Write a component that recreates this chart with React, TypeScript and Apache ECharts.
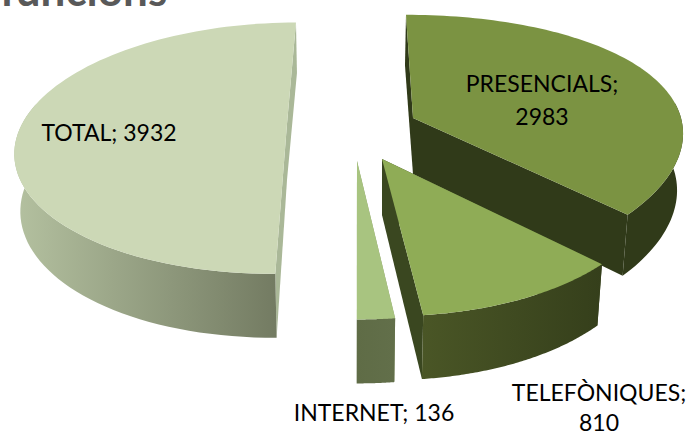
import React, { useEffect, useRef } from "react";
import * as echarts from "echarts";

const categories = ["TOTAL", "PRESENCIALS", "TELEFÒNIQUES", "INTERNET"];
const values = [3932, 2983, 810, 136];
const titleText = "funcions";

// layout (not data)
const apexes = [[287, 124], [413, 118], [382, 159], [357, 161]];
const radiusX = [265, 268, 265, 265];
const radiusY = [121, 123, 127, 128];
const perspectiveX = [0.192, 0.1, 0.192, 0.192];
const angleNudge = [[0.5, 0.7], [0.7, -2.5], [0, 1.4], [0.9, 1.4]];
const topColors = ["#CCD8B6", "#7B9342", "#8FAC56", "#A8C480"];
const cutColors = ["#AAB898", "#303A19", "#3A4720", "#8A9A6C"];
const sideFrom = ["#B4C1A0", "#303A19", "#4A5626", "#5F6C46"];
const sideTo = ["#737B62", "#303A19", "#353F1B", "#626F4A"];
const labelPos: [number, number][][] = [
  [[109, 132]],
  [[542, 83], [542, 116]],
  [[599, 392], [599, 422]],
  [[374, 412]],
];
const labelLines = [
  (n: string, v: number) => [`${n}; ${v}`],
  (n: string, v: number) => [`${n};`, `${v}`],
  (n: string, v: number) => [`${n};`, `${v}`],
  (n: string, v: number) => [`${n}; ${v}`],
];
const START = -91;
const K = 0.192, VX = 350, DEPTH = 56;

const project = (i: number, t: number, drop = 0) => {
  const a = apexes[i];
  const X = Math.cos(t), Y = Math.sin(t);
  const d = 1 - K * Y;
  const dX = 1 - perspectiveX[i] * Y;
  const dx = a[0] - VX + radiusX[i] * X;
  const xs = drop ? 0.982 : 1;
  return [VX + (dx / dX) * xs, a[1] + (radiusY[i] * Y) / d + drop * (1 + (1 / d - 1) * 0.6)];
};

function renderItem(params: any, api: any) {
  const i = params.dataIndex;
  const total = values.reduce((s, v) => s + v, 0);
  const before = values.slice(0, i).reduce((s, v) => s + v, 0);
  // TOTAL is drawn first but sits last in angle: the others run clockwise from the top
  const offset = i === 0 ? total - values[0] : before - values[0];
  const rad = Math.PI / 180;
  const a0 = (START + (offset / total) * 360 + angleNudge[i][0]) * rad;
  const a1 = (START + ((offset + api.value(0)) / total) * 360 + angleNudge[i][1]) * rad;
  const A = apexes[i];
  const n = 90;
  const arc: number[][] = [];
  const arcB: number[][] = [];
  for (let k = 0; k <= n; k++) {
    const t = a0 + ((a1 - a0) * k) / n;
    arc.push(project(i, t));
    arcB.push(project(i, t, DEPTH));
  }
  const Abot = [A[0], A[1] + DEPTH];
  const poly = (points: number[][], fill: any) => ({
    type: "polygon",
    shape: { points },
    style: { fill },
  });
  const children: any[] = [];
  children.push(poly([A, Abot, arcB[0], arc[0]], cutColors[i]));
  children.push(poly([A, Abot, arcB[n], arc[n]], cutColors[i]));
  // outer wall only where it faces the viewer
  const front: number[] = [];
  for (let k = 0; k <= n; k++) {
    const t = a0 + ((a1 - a0) * k) / n;
    if (Math.sin(t) > -0.15 || Math.cos(t) < -0.98) front.push(k);
  }
  const wallTop = front.map((k) => arc[k]);
  const wallBot = front.map((k) => arcB[k]).reverse();
  children.push(
    poly(
      [...wallTop, ...wallBot],
      new echarts.graphic.LinearGradient(0, 0, 1, 0, [
        { offset: 0, color: sideFrom[i] },
        { offset: 1, color: sideTo[i] },
      ])
    )
  );
  children.push(poly([A, ...arc], topColors[i]));
  labelLines[i](categories[i], api.value(0)).forEach((line, j) => {
    children.push({
      type: "text",
      x: labelPos[i][j][0],
      y: labelPos[i][j][1],
      style: {
        text: line,
        fill: "#000",
        font: '23px Lato, "Open Sans", sans-serif',
        textAlign: "center",
        textVerticalAlign: "middle",
      },
    });
  });
  return { type: "group", children };
}

export default function App() {
  const ref = useRef<HTMLDivElement>(null);
  useEffect(() => {
    const chart = echarts.init(ref.current!, null, { renderer: "svg" });
    chart.setOption({
      animation: false,
      backgroundColor: "#fff",
      title: {
        text: titleText,
        left: -5,
        top: -38,
        textStyle: { fontSize: 44, fontWeight: "bold", color: "#595959", fontFamily: "Lato, sans-serif" },
      },
      series: [
        {
          type: "custom",
          coordinateSystem: "none",
          renderItem,
          data: values.map((v, i) => ({ name: categories[i], value: [v, i] })),
        },
      ],
    });
    return () => chart.dispose();
  }, []);
  return (
    <div
      ref={ref}
      style={{ position: "fixed", left: 0, top: 0, width: 688, height: 433 }}
    />
  );
}
